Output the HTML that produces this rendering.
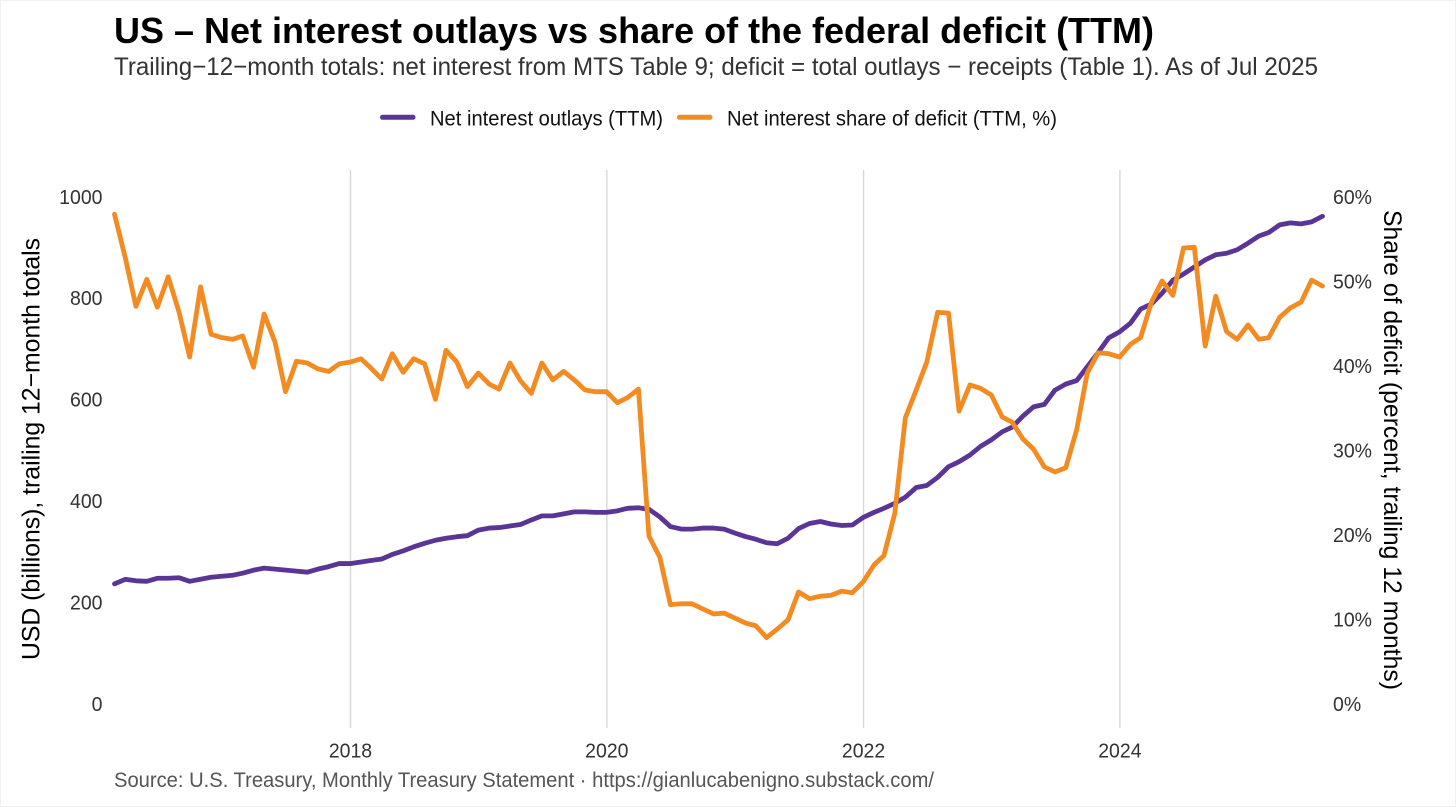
<!DOCTYPE html>
<html lang="en">
<head>
<meta charset="utf-8">
<title>US – Net interest outlays vs share of the federal deficit (TTM)</title>
<style>
html,body{margin:0;padding:0;background:#fff;}
svg{display:block;}
text{font-family:"Liberation Sans",Arial,sans-serif;}
</style>
</head>
<body>
<svg id="chart" xmlns="http://www.w3.org/2000/svg" width="1456" height="807" viewBox="0 0 1456 807">
  <rect x="0.5" y="0.5" width="1455" height="806" fill="#fff" stroke="#f1f1f1"/>
  <text x="114" y="43" font-size="36" font-weight="700" fill="#000" textLength="1040" lengthAdjust="spacingAndGlyphs">US – Net interest outlays vs share of the federal deficit (TTM)</text>
  <text x="114" y="75" font-size="25" fill="#333" textLength="1204" lengthAdjust="spacingAndGlyphs">Trailing−12−month totals: net interest from MTS Table 9; deficit = total outlays − receipts (Table 1). As of Jul 2025</text>

  <g>
    <g>
      <line x1="382.5" y1="117.3" x2="413" y2="117.3" stroke="#5B3596" stroke-width="5" stroke-linecap="round"/>
      <text x="430" y="125.5" font-size="21" fill="#111" textLength="233" lengthAdjust="spacingAndGlyphs">Net interest outlays (TTM)</text>
    </g>
    <g>
      <line x1="679.5" y1="117.3" x2="710" y2="117.3" stroke="#F28C22" stroke-width="5" stroke-linecap="round"/>
      <text x="727" y="125.5" font-size="21" fill="#111" textLength="330" lengthAdjust="spacingAndGlyphs">Net interest share of deficit (TTM, %)</text>
    </g>
  </g>

  <g id="grid"></g>
  <g id="xTicks"></g>
  <g id="yLeftTicks"></g>
  <g id="yRightTicks"></g>
  <g id="series"></g>

  <text transform="translate(39.5,449) rotate(-90)" text-anchor="middle" font-size="25" fill="#000" textLength="422" lengthAdjust="spacingAndGlyphs">USD (billions), trailing 12−month totals</text>
  <text transform="translate(1384,450) rotate(90)" text-anchor="middle" font-size="25" fill="#000" textLength="480" lengthAdjust="spacingAndGlyphs">Share of deficit (percent, trailing 12 months)</text>
  <text x="114" y="787" font-size="21" fill="#555" textLength="820" lengthAdjust="spacingAndGlyphs">Source: U.S. Treasury, Monthly Treasury Statement · https://gianlucabenigno.substack.com/</text>
</svg>
<script>
const firstYear = 2016;
const firstMonthIndex = 1;
const netInterestOutlays = [
  236,245,242,241,247,247,248,241,245,249,251,253,257,263,267,265,263,261,259,265,270,276,
  276,279,282,285,294,301,309,316,322,326,329,331,342,346,347,350,353,362,370,370,374,378,378,377,377,380,385,386,
  383,368,349,344,344,346,346,344,336,329,324,317,315,326,345,355,359,354,351,352,367,377,385,395,407,426,430,446,467,477,490,507,520,536,545,567,585,590,618,630,637,
  664,692,721,733,750,778,788,809,835,847,861,875,885,888,895,908,922,929,944,948,946,950,961
];
const netInterestShare = [
  57.9,52.7,47.0,50.2,46.9,50.5,46.3,41.0,49.3,43.7,43.3,43.1,43.5,39.8,46.1,42.8,36.9,40.5,40.3,39.6,39.3,40.2,
  40.4,40.8,39.7,38.4,41.4,39.2,40.8,40.2,36.0,41.8,40.4,37.5,39.1,37.8,37.2,40.3,38.2,36.7,40.3,38.3,39.3,38.3,37.1,36.9,36.9,35.6,36.2,37.2,
  19.8,17.3,11.7,11.8,11.8,11.2,10.6,10.7,10.1,9.5,9.2,7.8,8.8,9.9,13.2,12.4,12.7,12.8,13.3,13.1,14.4,16.4,17.5,22.5,33.8,37.1,40.4,46.3,46.2,34.6,37.7,37.3,36.5,33.9,33.3,31.3,30.1,28.0,27.4,27.9,32.4,
  39.1,41.5,41.4,41.0,42.5,43.3,47.5,50.0,48.3,53.9,54.0,42.3,48.2,44.0,43.1,44.8,43.1,43.3,45.7,46.8,47.5,50.1,49.4
];
const xTickYears = [2018, 2020, 2022, 2024];
const leftTicks = [0, 200, 400, 600, 800, 1000];
const rightTicks = [0, 10, 20, 30, 40, 50, 60];

const NS = 'http://www.w3.org/2000/svg';
const monthEnd = (i) => Date.UTC(firstYear, firstMonthIndex + i + 1, 0);
const dateMin = monthEnd(0);
const dateMax = monthEnd(netInterestOutlays.length - 1);
const xScale = (t) => 114.5 + (t - dateMin) / (dateMax - dateMin) * 1208;
const yLeft = (v) => 703.5 - v * 0.507;
const yRight = (v) => 703.5 - v * 8.45;

function make(tag, attrs, parent, txt) {
  const el = document.createElementNS(NS, tag);
  for (const k in attrs) el.setAttribute(k, attrs[k]);
  if (txt !== undefined) el.textContent = txt;
  parent.appendChild(el);
  return el;
}
function squeeze(el) {
  el.setAttribute('textLength', (el.getComputedTextLength() * 0.95).toFixed(2));
  el.setAttribute('lengthAdjust', 'spacingAndGlyphs');
}

const grid = document.getElementById('grid');
const xTicks = document.getElementById('xTicks');
xTickYears.forEach((yr) => {
  const x = xScale(Date.UTC(yr, 0, 1));
  const line = make('line', {x1: x, x2: x, y1: 170, y2: 728, stroke: '#d8d8d8', 'stroke-width': 1.4}, grid);
  
  
  const label = make('text', {x: x, y: 757.5, 'text-anchor': 'middle', 'font-size': 20.5, fill: '#333'}, xTicks, String(yr));
  
  
  squeeze(label);
});

const leftGroup = document.getElementById('yLeftTicks');
leftTicks.forEach((v) => {
  const label = make('text', {x: 102.5, y: yLeft(v) + 7.3, 'text-anchor': 'end', 'font-size': 20.5, fill: '#333'}, leftGroup, String(v));
  
  
  squeeze(label);
});

const rightGroup = document.getElementById('yRightTicks');
rightTicks.forEach((v) => {
  const label = make('text', {x: 1333, y: yRight(v) + 7.3, 'text-anchor': 'start', 'font-size': 20.5, fill: '#333'}, rightGroup, v + '%');
  
  
  squeeze(label);
});

function pathFrom(values, yFn) {
  return values.map((v, i) => (i ? 'L' : 'M') + xScale(monthEnd(i)).toFixed(2) + ' ' + yFn(v).toFixed(2)).join('');
}

const seriesGroup = document.getElementById('series');
const purple = make('path', {d: pathFrom(netInterestOutlays, yLeft), fill: 'none', stroke: '#5B3596', 'stroke-width': 4.8, 'stroke-linejoin': 'round', 'stroke-linecap': 'round'}, seriesGroup);


const orange = make('path', {d: pathFrom(netInterestShare, yRight), fill: 'none', stroke: '#F28C22', 'stroke-width': 4.8, 'stroke-linejoin': 'round', 'stroke-linecap': 'round'}, seriesGroup);


</script>
</body>
</html>
